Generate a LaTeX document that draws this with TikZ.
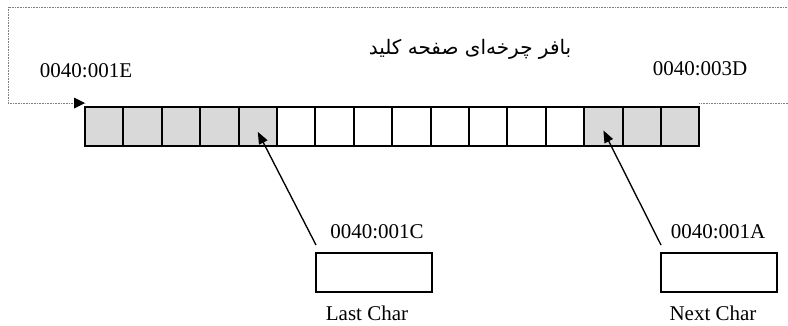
\documentclass[tikz,border=0pt]{standalone}
\usepackage{fontspec}
\setmainfont{Liberation Serif}
\newfontfamily\arabicfont[Script=Arabic]{DejaVu Sans}
\TeXXeTstate=1
\usetikzlibrary{arrows.meta}
\definecolor{cellgrey}{HTML}{D9D9D9}
\definecolor{loopgrey}{HTML}{7F7F7F}
\begin{document}
\begin{tikzpicture}[x=0.75pt,y=-0.75pt,
  every node/.style={font=\fontsize{15.75}{18}\selectfont},
  cell/.style={draw=black,line width=1.5pt,minimum width=28.8pt,minimum height=29.25pt,inner sep=0pt,outer sep=0pt},
  greycell/.style={cell,fill=cellgrey},
  regbox/.style={draw=black,line width=1.5pt,minimum width=87pt,minimum height=29.25pt,inner sep=0pt,outer sep=0pt},
  label/.style={inner sep=0pt},
  ptr/.style={line width=1pt,-{Triangle[length=9pt,width=7pt]}},
  loop/.style={draw=loopgrey,line width=0.7pt,dash pattern=on 0.6pt off 0.6pt},
]
\useasboundingbox (0,0) rectangle (788,325);
\clip (0,0) rectangle (788,325);

% the circular buffer: 16 cells, occupied ones shaded
\foreach \i in {0,...,4,13,14,15}
  \node[greycell] (c\i) at ({85+38.4*(\i+0.5)},126.5) {};
\foreach \i in {5,...,12}
  \node[cell] (c\i) at ({85+38.4*(\i+0.5)},126.5) {};

% wrap-around path from the end of the buffer back to its start
\coordinate (loopR) at ([yshift=3pt]c15.north east);
\coordinate (loopL) at ([yshift=3pt]c0.north west);
\draw[loop] (loopR) -- (800,103) -- (800,7) -- (8,7) -- (8,103) -- (loopL);
\fill[black] (loopL) -- ++(-11,-5.5) -- ++(0,11) -- cycle;

% title and buffer bounds
\node[label] (title) at (470,49) {\arabicfont\fontsize{15}{18}\selectfont\beginR بافر چرخه‌ای صفحه کلید\endR};
\node[label] (startaddr) at (86,71) {0040:001E};
\node[label] (endaddr) at (700,69) {0040:003D};

% head/tail pointer words
\node[regbox] (lastbox) at (374,272.5) {};
\node[regbox] (nextbox) at (719,272.5) {};
\node[label] (lastaddr) at (377,232) {0040:001C};
\node[label] (nextaddr) at (718,232) {0040:001A};
\node[label] (lastname) at (367,313) {Last Char};
\node[label] (nextname) at (713,313) {Next Char};

\coordinate (lastfoot) at ([yshift=6pt]lastbox.north west);
\coordinate (nextfoot) at ([yshift=6pt]nextbox.north west);
\draw[ptr] (lastfoot) -- ([yshift=-4pt]c4.center);
\draw[ptr] (nextfoot) -- ([yshift=-3pt]c13.center);
\end{tikzpicture}
\end{document}
